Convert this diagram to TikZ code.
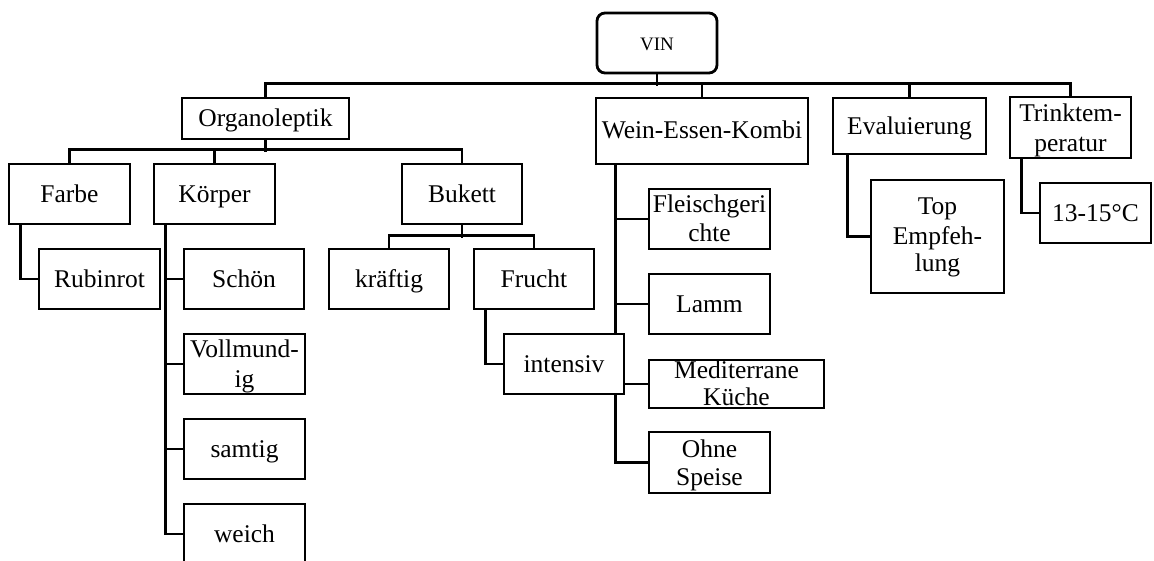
\documentclass[tikz,border=0pt]{standalone}
\usepackage{fontspec}
\setmainfont{Liberation Serif}
\usetikzlibrary{calc}
\pgfdeclarelayer{bg}
\pgfsetlayers{bg,main}
\begin{document}
\begin{tikzpicture}[x=1pt,y=-1pt,
  bx/.style={draw, line width=2.8pt, fill=white, inner sep=0pt,
    text height=17pt, text depth=0pt, font=\fontsize{25.5}{29}\selectfont},
  ln/.style={draw, line width=2.8pt, line join=miter},
  lbl/.style={inner sep=0pt, anchor=base, font=\fontsize{25.5}{29}\selectfont}]
\useasboundingbox (0,0) rectangle (1154,561);
\clip (0,0) rectangle (1154,561);

% root
\node[bx, rounded corners=8pt, minimum width=120pt, minimum height=60pt,
  font=\fontsize{19}{23}\selectfont, text height=15pt] (vin) at (657,43) {VIN};

% level 1
\node[bx, minimum width=167pt, minimum height=41pt] (org) at (265.5,118.5) {Organoleptik};
\node[bx, minimum width=212pt, minimum height=66pt, text height=16pt] (wein) at (702,131) {Wein-Essen-Kombi};
\node[bx, minimum width=153pt, minimum height=56pt] (eval) at (909.5,126) {Evaluierung};
\node[bx, minimum width=121pt, minimum height=61pt] (trink) at (1070.5,127.5) {};

% level 2 (Organoleptik)
\node[bx, minimum width=121pt, minimum height=60pt] (farbe) at (69.5,194) {Farbe};
\node[bx, minimum width=121pt, minimum height=60pt] (koerper) at (214.5,194) {Körper};
\node[bx, minimum width=120pt, minimum height=60pt] (bukett) at (462,194) {Bukett};

% level 3
\node[bx, minimum width=121pt, minimum height=60pt] (rubin) at (99.5,279) {Rubinrot};
\node[bx, minimum width=120pt, minimum height=60pt] (schoen) at (244,279) {Schön};
\node[bx, minimum width=121pt, minimum height=60pt] (vollm) at (244.5,364) {};
\node[bx, minimum width=121pt, minimum height=60pt] (samtig) at (244.5,449) {samtig};
\node[bx, minimum width=121pt, minimum height=60pt] (weich) at (244.5,534) {weich};
\node[bx, minimum width=120pt, minimum height=60pt] (kraeftig) at (389,279) {kräftig};
\node[bx, minimum width=120pt, minimum height=60pt] (frucht) at (534,279) {Frucht};

% Wein-Essen-Kombi children
\node[bx, minimum width=121pt, minimum height=60pt] (fleisch) at (709.5,219) {};
\node[bx, minimum width=121pt, minimum height=60pt] (lamm) at (709.5,304) {Lamm};
\node[bx, minimum width=175pt, minimum height=48pt] (medit) at (736.5,384) {};
\node[bx, minimum width=121pt, minimum height=61pt] (ohne) at (709.5,462.5) {};

% intensiv (drawn over the Wein-Essen-Kombi line)
\node[bx, minimum width=120pt, minimum height=60pt] (intensiv) at (564,364) {intensiv};

% Evaluierung / Trinktemperatur children
\node[bx, minimum width=133pt, minimum height=113pt] (top) at (937.5,236.5) {};
\node[bx, minimum width=111pt, minimum height=60pt] (temp) at (1095.5,213) {13-15°C};

% multi-line texts
\node[lbl] (trinkA) at ($(trink.center)+(0,-5.5)$) {Trinktem-};
\node[lbl] (trinkB) at ($(trink.center)+(0,24.5)$) {peratur};
\node[lbl] (vollmA) at ($(vollm.center)+(0,-7)$) {Vollmund-};
\node[lbl] (vollmB) at ($(vollm.center)+(0,23)$) {ig};
\node[lbl] (fleischA) at ($(fleisch.center)+(0,-6)$) {Fleischgeri};
\node[lbl] (fleischB) at ($(fleisch.center)+(0,23)$) {chte};
\node[lbl] (meditA) at ($(medit.center)+(0,-6)$) {Mediterrane};
\node[lbl] (meditB) at ($(medit.center)+(0,21)$) {Küche};
\node[lbl] (ohneA) at ($(ohne.center)+(0,-5.5)$) {Ohne};
\node[lbl] (ohneB) at ($(ohne.center)+(0,22.5)$) {Speise};
\node[lbl] (topA) at ($(top.center)+(0,-21.5)$) {Top};
\node[lbl] (topB) at ($(top.center)+(0,8.5)$) {Empfeh-};
\node[lbl] (topC) at ($(top.center)+(0,35.5)$) {lung};

% connectors
\begin{pgfonlayer}{bg}
\draw[ln] (vin.south) -- ++(0,12);
\draw[ln] (org.north) -- ++(0,-13) -| (trink.north);
\draw[ln] (wein.north) -- ++(0,-13);
\draw[ln] (eval.north) -- ++(0,-13);

\draw[ln] (org.south) -- ++(0,12);
\draw[ln] (farbe.north) -- ++(0,-13) -| (bukett.north);
\draw[ln] (koerper.north) -- ++(0,-13);

\draw[ln] (bukett.south) -- ++(0,13);
\draw[ln] (kraeftig.north) -- ++(0,-12) -| (frucht.north);

\draw[ln] ($(farbe.south west)+(13,0)$) |- (rubin.west);

\coordinate (kv) at ($(koerper.south west)+(13,0)$);
\draw[ln] (kv) |- (weich.west);
\foreach \n in {schoen,vollm,samtig} \draw[ln] (kv |- \n.west) -- (\n.west);

\draw[ln] ($(frucht.south west)+(13,0)$) |- (intensiv.west);

\coordinate (wv) at ($(wein.south west)+(21,0)$);
\draw[ln] (wv) |- (ohne.west);
\foreach \n in {fleisch,lamm,medit} \draw[ln] (wv |- \n.west) -- (\n.west);

\draw[ln] ($(eval.south west)+(16,0)$) |- (top.west);
\draw[ln] ($(trink.south west)+(13,0)$) |- (temp.west);
\end{pgfonlayer}
\end{tikzpicture}
\end{document}
